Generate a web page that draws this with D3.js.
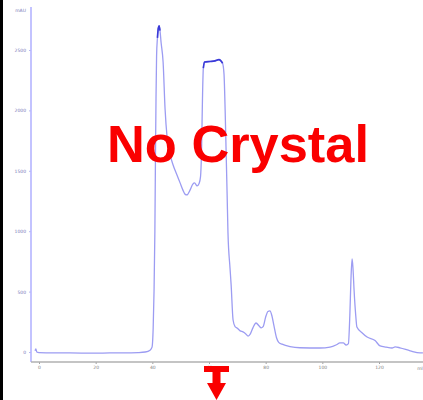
<!DOCTYPE html>
<html>
<head>
<meta charset="utf-8">
<script src="https://cdn.jsdelivr.net/npm/d3@7"></script>
<style>
  html, body { margin: 0; padding: 0; background: #fff; }
  svg { display: block; }
</style>
</head>
<body>
<svg id="chart" width="423" height="400"></svg>
<script>
// ── DATA ─────────────────────────────────────────────────────────────────────
// elution volume (ml) and UV absorbance (mAU)
const volume = [
  -1.4, -1.1, -0.8, 0, 5, 10, 20, 25, 30, 35, 37.5, 39.2, 39.9, 40.3, 40.6, 40.9,
  41.1, 41.3, 41.5, 41.8, 42.1, 42.4, 42.7, 43.1, 43.8, 44.5, 45.2, 46.2, 47.3,
  48.7, 49.8, 50.8, 51.6, 52.2, 53.3, 54.3, 54.9, 55.8, 56.5, 57.0, 57.4, 57.7,
  58.0, 58.4, 60.4, 62.1, 63.5, 64.2, 64.8, 65.3, 65.7, 66.0, 66.4, 66.7, 67.4,
  67.8, 68.5, 69.2, 69.9, 71.0, 72.0, 73.0, 73.8, 74.6, 75.5, 76.6, 77.7, 78.4,
  79.1, 80.0, 80.8, 81.5, 82.2, 82.9, 83.8, 84.6, 85.8, 88.6, 92.1, 99.2, 102.7,
  105.0, 106.2, 107.4, 108.4, 109.2, 109.7, 110.1, 110.5, 110.8, 111.2, 111.8,
  112.2, 114.0, 115.8, 118.6, 120.4, 122.5, 124.6, 125.7, 127.4, 131.0, 134.5, 135.5
];
const absorbance = [
  10, 25, 0, -5, -8, -8, -10, -8, -8, -5, 0, 15, 40, 200, 500, 1000,
  1600, 2100, 2450, 2600, 2680, 2700, 2660, 2560, 2400, 2010, 1780, 1640, 1550,
  1465, 1400, 1340, 1305, 1300, 1340, 1390, 1400, 1375, 1395, 1450, 1700, 2100,
  2350, 2400, 2405, 2410, 2420, 2410, 2390, 2300, 2000, 1700, 1300, 985, 700,
  560, 265, 210, 199, 175, 166, 150, 132, 150, 200, 240, 215, 200,
  210, 290, 335, 340, 300, 220, 120, 80, 65, 45, 35, 33, 40,
  60, 75, 75, 58, 70, 300, 600, 770, 700, 513, 300,
  207, 160, 124, 95, 50, 40, 33, 42, 35, 10, -8, -8
];

const xTicks = [0, 20, 40, 60, 80, 100, 120];
const yTicks = [0, 500, 1000, 1500, 2000, 2500];
const xUnit = 'ml';
const yUnit = 'mAU';
const stamp = 'No Crystal';

// ── SETUP ────────────────────────────────────────────────────────────────────
const svg = d3.select('#chart');
const x = d3.scaleLinear().domain([0, 120]).range([39, 379]);
const y = d3.scaleLinear().domain([0, 2500]).range([352, 50]);

const trace = volume.map((v, i) => ({ v, a: absorbance[i] }));

// black strip on the left edge
svg.append('rect').attr('x', 0).attr('y', 0).attr('width', 3).attr('height', 400).attr('fill', '#000');

// ── AXES ─────────────────────────────────────────────────────────────────────
const yAxis = svg.append('g').attr('transform', 'translate(31,0)')
  .call(d3.axisLeft(y).tickValues(yTicks).tickFormat(d3.format('d')).tickSize(2).tickPadding(3));
yAxis.select('.domain').remove();
yAxis.selectAll('line').attr('stroke', '#b8b8f0');
yAxis.selectAll('text').attr('fill', '#7878b8').attr('font-size', 4.5)
  .attr('font-family', 'DejaVu Sans');
svg.append('line').attr('x1', 31).attr('x2', 31).attr('y1', 7).attr('y2', 362)
  .attr('stroke', '#b4b4ff').attr('stroke-width', 1.6);
svg.append('text').attr('x', 26).attr('y', 12).attr('text-anchor', 'end')
  .attr('font-size', 4.5).attr('font-family', 'DejaVu Sans').attr('fill', '#7878b8')
  .text(yUnit);

const xAxis = svg.append('g').attr('transform', 'translate(0,362)')
  .call(d3.axisBottom(x).tickValues(xTicks).tickFormat(d3.format('d')).tickSize(2).tickPadding(2));
xAxis.select('.domain').remove();
xAxis.selectAll('line').attr('stroke', '#a0a0a0');
xAxis.selectAll('text').attr('fill', '#808080').attr('font-size', 4.5)
  .attr('font-family', 'DejaVu Sans');
svg.append('line').attr('x1', 31).attr('x2', 423).attr('y1', 362).attr('y2', 362)
  .attr('stroke', '#b0b0b0').attr('stroke-width', 1.4);
svg.append('text').attr('x', 420).attr('y', 370).attr('text-anchor', 'middle')
  .attr('font-size', 4.5).attr('font-family', 'DejaVu Sans').attr('fill', '#808080')
  .text(xUnit);

// ── TRACE ────────────────────────────────────────────────────────────────────
const line = d3.line().x(d => x(d.v)).y(d => y(d.a)).curve(d3.curveMonotoneX);

svg.append('path').datum(trace)
  .attr('fill', 'none').attr('stroke', '#9c9cf2').attr('stroke-width', 1.3)
  .attr('d', line);

// darker, noisier tops of the two large peaks
const tops = [trace.filter(d => d.v >= 41.8 && d.v <= 42.7),
              trace.filter(d => d.v >= 58.0 && d.v <= 64.8)];
svg.selectAll('.top').data(tops).join('path').attr('class', 'top')
  .attr('fill', 'none').attr('stroke', '#3a3ad8').attr('stroke-width', 1.6)
  .attr('d', line);

// ── ANNOTATION ───────────────────────────────────────────────────────────────
svg.append('text').attr('x', 107).attr('y', 162)
  .attr('font-family', 'Liberation Sans, Arial, sans-serif').attr('font-weight', 700)
  .attr('font-size', 52).attr('fill', '#fa0000')
  .attr('textLength', 262).attr('lengthAdjust', 'spacingAndGlyphs')
  .text(stamp);

// red marker arrow under the x axis
const ax = 216.5;
svg.append('path').attr('fill', '#fa0000')
  .attr('d', `M${ax - 12.5},366 H${ax + 12.5} V372 H${ax + 4} V383 H${ax + 9.5} L${ax},400 L${ax - 9.5},383 H${ax - 4} V372 H${ax - 12.5} Z`);
</script>
</body>
</html>
